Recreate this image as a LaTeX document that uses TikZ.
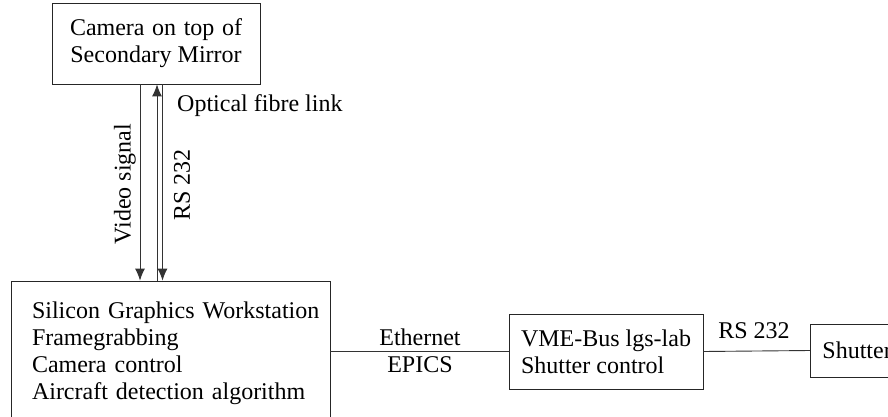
\documentclass[tikz,border=0pt]{standalone}
\usepackage{fontspec}
\setmainfont{Liberation Serif}
\usetikzlibrary{shapes,arrows.meta}

\begin{document}
\begin{tikzpicture}[x=1pt,y=-1pt,
    box/.style={draw=black!85,line width=0.9pt,rectangle,inner sep=0pt,
      font=\fontsize{24}{27}\selectfont},
    lbl/.style={font=\fontsize{24}{27}\selectfont,inner sep=0pt},
    link/.style={draw=black!80,line width=0.9pt},
    sig/.style={link,-{Latex[length=12pt,width=10pt]}}]
      \useasboundingbox (0,0) rectangle (888,417);

      \node[box,minimum width=208pt,minimum height=81pt,align=center] (cam) at (156,43.5)
        {\makebox[172pt][s]{Camera on top of}\\Secondary Mirror};
      \node[box,minimum width=319pt,minimum height=144pt,text width=277pt,align=left] (sgi) at (170.5,353)
        {\mbox{Silicon Graphics Workstation}\\Framegrabbing\\Camera control\\\mbox{Aircraft detection algorithm}};
      \node[box,minimum width=194pt,minimum height=75pt,align=left] (vme) at (606,351.5)
        {VME-Bus lgs-lab\\Shutter control};
      \node[box,minimum height=53pt,anchor=west,inner xsep=12pt] (shut) at (810,350.5) {Shutter};

      \coordinate (vidx) at (140,0);
      \coordinate (upx) at (157,0);
      \coordinate (downx) at (162.5,0);

      \draw[sig] (vidx |- cam.south) -- (vidx |- sgi.north);
      \draw[sig] (upx |- sgi.north) -- (upx |- cam.south);
      \draw[sig] (downx |- cam.south) -- (downx |- sgi.north);

      \node[lbl,rotate=90] (video) at (125,184) {Video signal};
      \node[lbl,rotate=90] (rsup) at (182,185) {RS 232};
      \node[lbl,anchor=base west] (fibre) at (177,112) {Optical fibre link};

      \draw[link] (vme.west -| sgi.east) -- (vme.west);
      \node[lbl,anchor=base] (eth) at (420,345) {Ethernet};
      \node[lbl,anchor=base] (epics) at (420,372) {EPICS};

      \draw[link] (vme.east) -- (shut.west);
      \node[lbl,anchor=base] (rsright) at (754,338) {RS 232};
    \end{tikzpicture}
\end{document}
